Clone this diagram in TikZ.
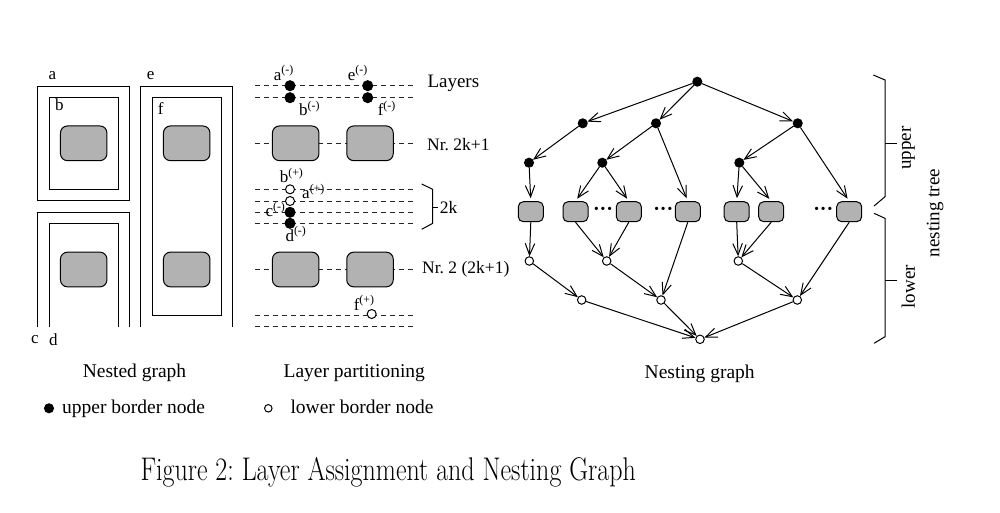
\documentclass[tikz,border=0pt]{standalone}
\usepackage{fontspec}
\newfontfamily\tms{Liberation Serif}
\usetikzlibrary{arrows.meta}
\begin{document}
\frenchspacing
\begin{tikzpicture}[x=1pt,y=-1pt,line width=1pt,
 box/.style={draw,rounded corners=7pt,fill=black!30,minimum width=46.5pt,minimum height=34.7pt,inner sep=0},
 sbox/.style={draw,rounded corners=5pt,fill=black!30,minimum width=25pt,minimum height=20pt,inner sep=0},
 fdot/.style={circle,fill,draw,inner sep=0,minimum size=9pt},
 odot/.style={circle,draw,fill=white,inner sep=0,minimum size=8.5pt},
 arr/.style={-{Straight Barb[length=11.5pt,width=9.5pt]}},
 lay/.style={dash pattern=on 5pt off 4pt,black!85},
 lbl/.style={font=\tms\fontsize{17}{20}\selectfont,inner sep=0},
 txt/.style={font=\tms\fontsize{19}{22}\selectfont,inner sep=0},
 dots/.style={font=\tms\bfseries\fontsize{20}{22}\selectfont,inner sep=0},
]
\useasboundingbox (0,0) rectangle (1000,512);
\fill[white] (0,0) rectangle (1000,512);

% ---------- Nested graph ----------
\draw (37.7,86) rectangle (129.3,200);
\draw (49.3,97.7) rectangle (118.3,189);
\draw (37.7,326.7) -- (37.7,212.3) -- (129.3,212.3) -- (129.3,326.7);
\draw (49.3,326.7) -- (49.3,223.3) -- (118.3,223.3) -- (118.3,326.7);
\draw (140.7,326.7) -- (140.7,86) -- (232.3,86) -- (232.3,326.7);
\draw (152.7,97.7) rectangle (221.3,315.3);
\node[box] (n1) at (83.7,143.3) {};
\node[box] (n2) at (83.7,269.5) {};
\node[box] (n3) at (186.7,143.3) {};
\node[box] (n4) at (186.7,269.5) {};
\node[lbl] (la) at (52.3,76) {a};
\node[lbl] (lb) at (59.3,105) {b};
\node[lbl] (le) at (150.7,76) {e};
\node[lbl] (lf) at (160.7,109) {f};
\node[lbl] (lc) at (35,340) {c};
\node[lbl] (ld) at (53.3,340) {d};

% ---------- Layer partitioning ----------
\foreach \yy in {85.7,97.7,143.3,269.5,315.7,326.7}
  \draw[lay] (255,\yy) -- (413,\yy);
\foreach \yy in {189.3,201,212.3,223.3}
  \draw[lay] (255,\yy) -- (415,\yy);
\node[box] (p1) at (295.7,143.3) {};
\node[box] (p2) at (370,143.3) {};
\node[box] (p3) at (295.7,269.5) {};
\node[box] (p4) at (370,269.5) {};
\node[fdot,minimum size=10pt] (am) at (290,85.7) {};
\node[fdot,minimum size=10pt] (bm) at (290,97.7) {};
\node[fdot,minimum size=10pt] (em) at (367.7,85.7) {};
\node[fdot,minimum size=10pt] (fm) at (367.7,97.7) {};
\node[odot,minimum size=9pt] (bp) at (290,189.3) {};
\node[odot,minimum size=9pt] (ap) at (290,201) {};
\node[fdot,minimum size=10pt] (cm) at (290,212.3) {};
\node[fdot,minimum size=10pt] (dm) at (290,223.3) {};
\node[odot,minimum size=9pt] (fp) at (371.7,314) {};
\node[lbl,anchor=base west] (tam) at (273.3,80) {a\textsuperscript{(-)}};
\node[lbl,anchor=base west] (tem) at (347.3,80) {e\textsuperscript{(-)}};
\node[lbl,anchor=base west] (tbm) at (298.7,115.7) {b\textsuperscript{(-)}};
\node[lbl,anchor=base west] (tfm) at (377.3,115.7) {f\textsuperscript{(-)}};
\node[lbl,anchor=base west] (tbp) at (279.3,182.7) {b\textsuperscript{(+)}};
\node[lbl,anchor=base west] (tap) at (301.7,198.3) {a\textsuperscript{(+)}};
\node[lbl,anchor=base west] (tcm) at (265,216.7) {c\textsuperscript{(-)}};
\node[lbl,anchor=base west] (tdm) at (285,241) {d\textsuperscript{(-)}};
\node[lbl,anchor=base west] (tfp) at (353.3,310) {f\textsuperscript{(+)}};
\node[txt,anchor=base west] (layers) at (427,87.7) {Layers};
\node[txt,anchor=base west,font=\tms\fontsize{17.5}{20}\selectfont] (nr1) at (426.7,150) {Nr. 2k+1};
\node[txt,anchor=base west,font=\tms\fontsize{17.5}{20}\selectfont] (nr2) at (421.7,273) {Nr. 2 (2k+1)};
\draw (421.7,184) -- (432.7,189.3) -- (432.7,223.3) -- (421.7,229.3);
\draw (432.7,207) -- (438,207);
\node[txt,anchor=base west,font=\tms\fontsize{17.5}{20}\selectfont] (tk) at (439.3,213) {2k};

% ---------- Nesting graph ----------
\node[fdot] (r) at (697.3,81.7) {};
\node[fdot] (u1) at (582.7,123.3) {};
\node[fdot] (u2) at (656,123.3) {};
\node[fdot] (u3) at (797.7,123.3) {};
\node[fdot] (v1) at (529,162.7) {};
\node[fdot] (v2) at (602.3,162.7) {};
\node[fdot] (v3) at (739.3,162.7) {};
\node[sbox] (s1) at (530.8,211.7) {};
\node[sbox] (s2) at (575.5,211.7) {};
\node[sbox] (s3) at (628.8,211.7) {};
\node[sbox] (s4) at (687.8,211.7) {};
\node[sbox] (s5) at (736.7,211.7) {};
\node[sbox] (s6) at (771.2,211.7) {};
\node[sbox] (s7) at (849.2,211.7) {};
\node[dots] (d1) at (603,211) {···};
\node[dots] (d2) at (663.3,211) {···};
\node[dots] (d3) at (823.3,211) {···};
\node[odot] (w1) at (529.3,261) {};
\node[odot] (w2) at (606.7,261) {};
\node[odot] (w3) at (738.3,261) {};
\node[odot] (x1) at (581.7,300) {};
\node[odot] (x2) at (661,300) {};
\node[odot] (x3) at (797.3,300) {};
\node[odot] (z) at (700,339.3) {};

\begin{scope}[arr]
\draw (r) -- (u1);
\draw (r) -- (u2);
\draw (r) -- (u3);
\draw (u1) -- (v1);
\draw (u2) -- (v2);
\draw (u3) -- (v3);
\draw[shorten >=3pt] (v1) -- (s1.north);
\draw[shorten >=3pt] (v2) -- (s2.north);
\draw[shorten >=3pt] (v2) -- (s3.north);
\draw[shorten >=3pt] (u2) -- (s4.north);
\draw[shorten >=3pt] (v3) -- (s5.north);
\draw[shorten >=3pt] (v3) -- (s6.north);
\draw[shorten >=3pt] (u3) -- (s7.north);
\draw (s1.south) -- (w1);
\draw (s2.south) -- (w2);
\draw (s3.south) -- (w2);
\draw (s4.south) -- (x2);
\draw (s5.south) -- (w3);
\draw (s6.south) -- (w3);
\draw (s7.south) -- (x3);
\draw (w1) -- (x1);
\draw (w2) -- (x2);
\draw (w3) -- (x3);
\draw (x1) -- (z);
\draw (x2) -- (z);
\draw (x3) -- (z);
\end{scope}

% braces
\draw (873.3,75) -- (885,80) -- (885,196.7) -- (874,206);
\draw (885,143.3) -- (896.7,143.3);
\draw (874,213.3) -- (885,218.3) -- (885,336.7) -- (874,343.3);
\draw (885,280.7) -- (896.7,280.7);
\node[txt,rotate=90] (tu) at (908.3,148) {upper};
\node[txt,rotate=90] (tl) at (908.3,286.7) {lower};
\node[txt,rotate=90] (tn) at (935,213) {nesting tree};

% ---------- titles and legend ----------
\node[txt,anchor=base,font=\tms\fontsize{19.5}{22}\selectfont] (t1) at (134.5,377.7) {Nested graph};
\node[txt,anchor=base,font=\tms\fontsize{19.5}{22}\selectfont] (t2) at (354.3,377.7) {Layer partitioning};
\node[txt,anchor=base,font=\tms\fontsize{19.5}{22}\selectfont] (t3) at (699.7,378.3) {Nesting graph};
\node[fdot] (lg1) at (49,408.3) {};
\node[txt,anchor=base west,font=\tms\fontsize{19.5}{22}\selectfont] (lt1) at (61.7,413.3) {upper border node};
\node[odot,minimum size=7.5pt] (lg2) at (268.3,408.3) {};
\node[txt,anchor=base west,font=\tms\fontsize{19.5}{22}\selectfont] (lt2) at (290,413.3) {lower border node};

% ---------- caption ----------
\node[anchor=base west,inner sep=0] (cap) at (140,480.7)
  {\scalebox{1}[1.26]{\fontsize{26}{30}\selectfont Figure 2: Layer Assignment and Nesting Graph}};
\end{tikzpicture}
\end{document}
